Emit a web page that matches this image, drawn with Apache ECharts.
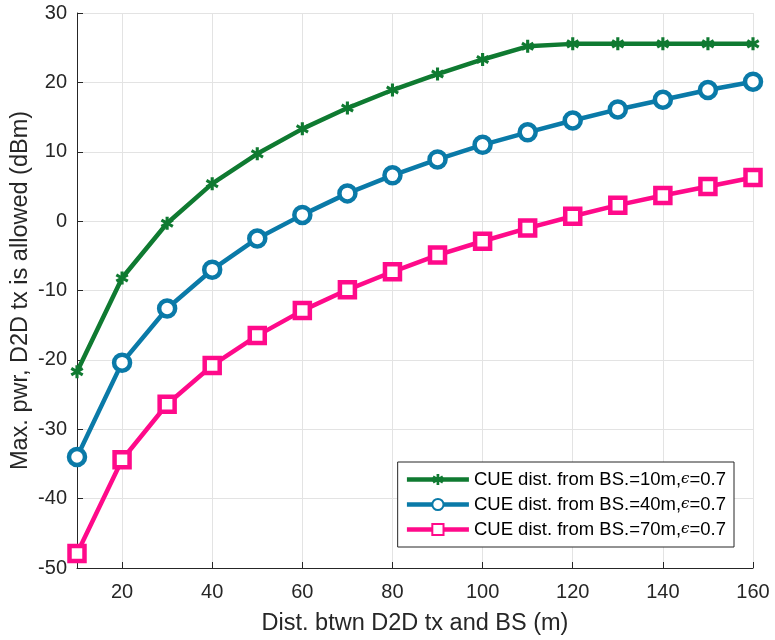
<!DOCTYPE html>
<html>
<head>
<meta charset="utf-8">
<script src="https://cdn.jsdelivr.net/npm/echarts@6/dist/echarts.min.js"></script>
<style>html,body{margin:0;padding:0;background:#fff}#c{width:775px;height:640px}</style>
</head>
<body>
<div id="c"></div>
<script>
const distances = [10,20,30,40,50,60,70,80,90,100,110,120,130,140,150,160];
const cue10 = [-21.7,-8.2,-0.3,5.4,9.7,13.3,16.3,18.9,21.2,23.3,25.2,25.55,25.55,25.55,25.55,25.55];
const cue40 = [-34.0,-20.4,-12.6,-7.0,-2.5,0.9,4.0,6.6,8.9,11.0,12.8,14.5,16.1,17.5,18.9,20.1];
const cue70 = [-47.9,-34.4,-26.4,-20.8,-16.5,-12.9,-9.9,-7.3,-4.9,-2.9,-1.0,0.7,2.3,3.7,5.0,6.3];
const xTicks = [20,40,60,80,100,120,140,160];
const seriesNames = ['CUE dist. from BS.=10m,', 'CUE dist. from BS.=40m,', 'CUE dist. from BS.=70m,'];

const green = '#0f7a31', blue = '#0a7aa8', pink = '#ff0a8a';
const starPath = 'path://M3.8,0 L6.2,0 L6.2,3 L8.8,1.5 L10,3.6 L7.4,5 L10,6.4 L8.8,8.5 L6.2,7 L6.2,10 L3.8,10 L3.8,7 L1.2,8.5 L0,6.4 L2.6,5 L0,3.6 L1.2,1.5 L3.8,3 Z';

function pts(arr){ return distances.map((d,i)=>[d,arr[i]]); }

const chart = echarts.init(document.getElementById('c'));
const font = 'Liberation Sans, Arial, Helvetica, sans-serif';
chart.setOption({
  animation:false,
  textStyle:{fontFamily:font},
  grid:{left:77,right:22,top:13,bottom:72,containLabel:false,outerBoundsMode:'none'},
  xAxis:{
    type:'value',min:10,max:160,
    name:'Dist. btwn D2D tx and BS (m)',nameLocation:'middle',nameGap:44,nameMoveOverlap:false,
    nameTextStyle:{fontSize:23.5,color:'#262626',fontFamily:font},
    axisLine:{show:true,onZero:false,lineStyle:{color:'#262626',width:1}},
    axisTick:{show:true,inside:true,length:6,customValues:xTicks,lineStyle:{color:'#262626'}},
    axisLabel:{customValues:xTicks,fontSize:20,color:'#262626',margin:14,fontFamily:font},
    splitLine:{show:true,lineStyle:{color:'#e3e3e3',width:1}}
  },
  yAxis:{
    type:'value',min:-50,max:30,interval:10,
    name:'Max. pwr, D2D tx is allowed (dBm)',nameLocation:'middle',nameGap:44,nameMoveOverlap:false,
    nameTextStyle:{fontSize:23.5,color:'#262626',fontFamily:font},
    axisLine:{show:true,lineStyle:{color:'#262626',width:1}},
    axisTick:{show:true,inside:true,length:6,lineStyle:{color:'#262626'}},
    axisLabel:{fontSize:20,color:'#262626',margin:10,fontFamily:font},
    splitLine:{show:true,lineStyle:{color:'#e3e3e3',width:1}}
  },
  legend:{
    orient:'vertical',right:41,bottom:93,
    backgroundColor:'#fff',borderColor:'#262626',borderWidth:1,borderRadius:0,
    padding:[8,8,8,7],itemGap:6,itemWidth:62,itemHeight:14,
    lineStyle:{width:4.5},
    textStyle:{fontSize:18.5,color:'#000',fontFamily:font,
      rich:{e:{fontSize:15,fontStyle:'italic',color:'#000',fontFamily:'DejaVu Serif'},n:{fontSize:18.5,color:'#000',fontFamily:font}}},
    formatter:function(name){ return '{n|'+name+'}{e|ϵ}{n|=0.7}'; },
    data:seriesNames
  },
  series:[
    {name:seriesNames[0],type:'line',data:pts(cue10),symbol:starPath,symbolSize:13,
     lineStyle:{color:green,width:4.5},itemStyle:{color:green,borderWidth:0},z:3},
    {name:seriesNames[1],type:'line',data:pts(cue40),symbol:'circle',symbolSize:16,
     lineStyle:{color:blue,width:4.5},itemStyle:{color:'#fff',borderColor:blue,borderWidth:4.5},z:2},
    {name:seriesNames[2],type:'line',data:pts(cue70),symbol:'rect',symbolSize:15,
     lineStyle:{color:pink,width:4.5},itemStyle:{color:'#fff',borderColor:pink,borderWidth:4.5},z:1}
  ]
});
</script>
</body>
</html>
